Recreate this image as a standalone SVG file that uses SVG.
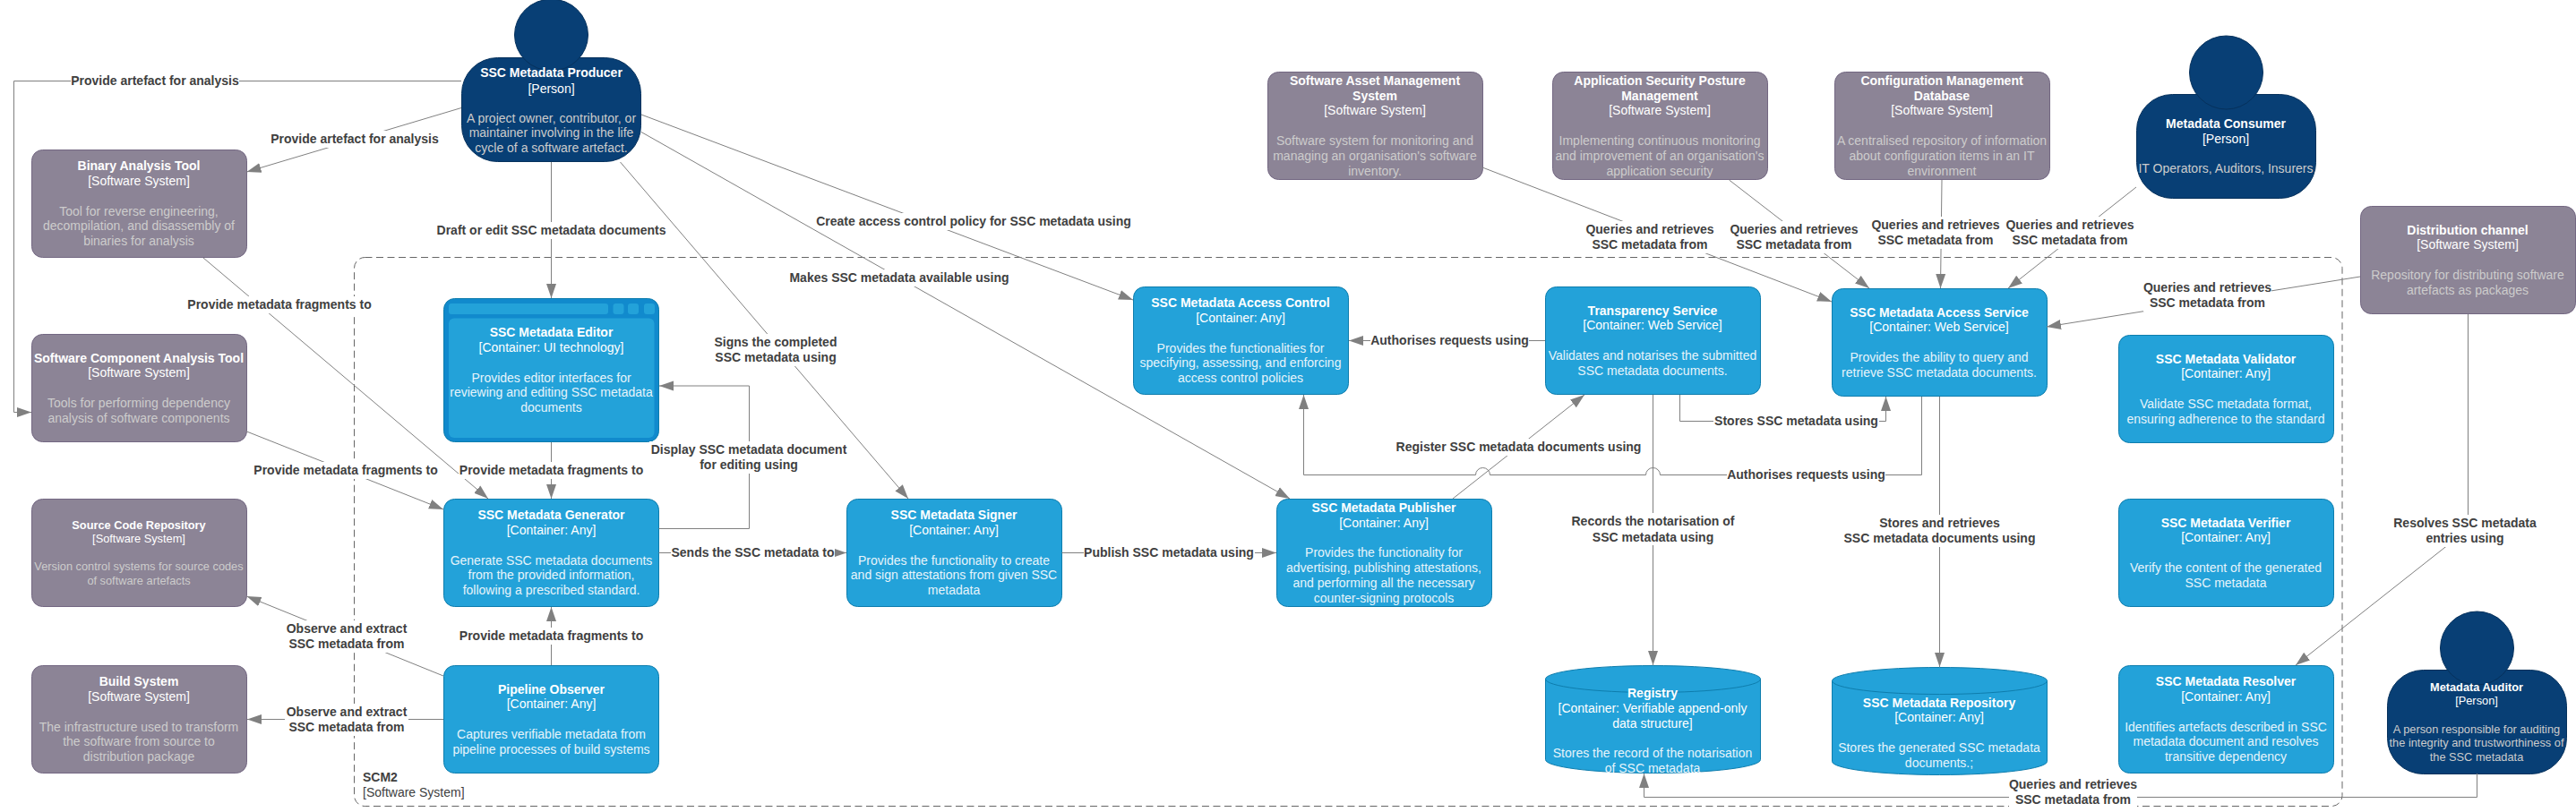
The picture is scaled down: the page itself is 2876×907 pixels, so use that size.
<svg xmlns="http://www.w3.org/2000/svg" width="2876" height="907" viewBox="0 0 2876 907">
<style>
text{font-family:"Liberation Sans",Arial,sans-serif;font-size:14px;text-anchor:middle}
.t{font-weight:bold;fill:#fff}.k{fill:#fff}.d{fill:#ccc}.b{fill:#e6f4fb}
.sm{font-size:12.8px}
.sys{fill:#8C8496;stroke:#736782}.box{fill:#23A2D9;stroke:#0E7DAD}.per{fill:#083F75;stroke:#06315C}
.c{fill:none;stroke:#808080;stroke-width:1}.a{marker-end:url(#arr)}
.lb{fill:#fff}.l{font-weight:bold;fill:#404040}
.bd{fill:none;stroke:#666;stroke-width:1;stroke-dasharray:8 4.5}
</style>
<defs><marker id="arr" markerUnits="userSpaceOnUse" markerWidth="17" markerHeight="12" refX="16" refY="6" orient="auto"><path d="M0,0.5L16,6L0,11.5z" fill="#808080"/></marker></defs>
<g id="boundary"><rect class="bd" x="395.5" y="287.5" width="2219.5" height="613" rx="12"/><text class="l" x="405" y="873" style="text-anchor:start">SCM2</text><text x="405" y="890" fill="#404040" style="text-anchor:start">[Software System]</text></g>

<g id="n-producer"><rect class="per" x="515.5" y="64.5" width="200" height="116" rx="40"/><ellipse class="per" cx="615.5" cy="39" rx="41" ry="40"/><text class="t" x="615.5" y="86">SSC Metadata Producer</text><text class="k" x="615.5" y="104">[Person]</text><text class="d" x="615.5" y="137">A project owner, contributor, or</text><text class="d" x="615.5" y="153">maintainer involving in the life</text><text class="d" x="615.5" y="170">cycle of a software artefact.</text></g>

<g id="n-binary"><rect class="sys" x="35.5" y="167.5" width="240" height="120" rx="12"/><text class="t" x="155" y="190">Binary Analysis Tool</text><text class="k" x="155" y="207">[Software System]</text><text class="d" x="155" y="241">Tool for reverse engineering,</text><text class="d" x="155" y="257">decompilation, and disassembly of</text><text class="d" x="155" y="274">binaries for analysis</text></g>
<g id="n-sca"><rect class="sys" x="35.5" y="373.5" width="240" height="120" rx="12"/><text class="t" x="155" y="405">Software Component Analysis Tool</text><text class="k" x="155" y="421">[Software System]</text><text class="d" x="155" y="455">Tools for performing dependency</text><text class="d" x="155" y="472">analysis of software components</text></g>
<g id="n-source"><rect class="sys" x="35.5" y="557.5" width="240" height="120" rx="12"/><text class="t sm" x="155" y="591">Source Code Repository</text><text class="k sm" x="155" y="606">[Software System]</text><text class="d sm" x="155" y="637">Version control systems for source codes</text><text class="d sm" x="155" y="653">of software artefacts</text></g>
<g id="n-build"><rect class="sys" x="35.5" y="743.5" width="240" height="120" rx="12"/><text class="t" x="155" y="766">Build System</text><text class="k" x="155" y="783">[Software System]</text><text class="d" x="155" y="817">The infrastructure used to transform</text><text class="d" x="155" y="833">the software from source to</text><text class="d" x="155" y="850">distribution package</text></g>

<g id="n-editor"><rect x="495.5" y="333.5" width="240" height="160" rx="12" fill="#118ACD" stroke="#0E7DAD"/><rect x="501" y="339" width="178" height="12" rx="3" fill="#23A2D9"/><rect x="684.5" y="339" width="12" height="12" rx="3" fill="#23A2D9"/><rect x="701" y="339" width="12" height="12" rx="3" fill="#23A2D9"/><rect x="719" y="339" width="12" height="12" rx="3" fill="#23A2D9"/><rect x="501" y="355.5" width="229.5" height="133.5" rx="6" fill="#23A2D9"/><text class="t" x="615.5" y="376">SSC Metadata Editor</text><text class="k" x="615.5" y="393">[Container: UI technology]</text><text class="b" x="615.5" y="427">Provides editor interfaces for</text><text class="b" x="615.5" y="443">reviewing and editing SSC metadata</text><text class="b" x="615.5" y="460">documents</text></g>
<g id="n-generator"><rect class="box" x="495.5" y="557.5" width="240" height="120" rx="12"/><text class="t" x="615.5" y="580">SSC Metadata Generator</text><text class="k" x="615.5" y="597">[Container: Any]</text><text class="b" x="615.5" y="631">Generate SSC metadata documents</text><text class="b" x="615.5" y="647">from the provided information,</text><text class="b" x="615.5" y="664">following a prescribed standard.</text></g>
<g id="n-observer"><rect class="box" x="495.5" y="743.5" width="240" height="120" rx="12"/><text class="t" x="615.5" y="775">Pipeline Observer</text><text class="k" x="615.5" y="791">[Container: Any]</text><text class="b" x="615.5" y="825">Captures verifiable metadata from</text><text class="b" x="615.5" y="842">pipeline processes of build systems</text></g>
<g id="n-signer"><rect class="box" x="945.5" y="557.5" width="240" height="120" rx="12"/><text class="t" x="1065" y="580">SSC Metadata Signer</text><text class="k" x="1065" y="597">[Container: Any]</text><text class="b" x="1065" y="631">Provides the functionality to create</text><text class="b" x="1065" y="647">and sign attestations from given SSC</text><text class="b" x="1065" y="664">metadata</text></g>
<g id="n-publisher"><rect class="box" x="1425.5" y="557.5" width="240" height="120" rx="12"/><text class="t" x="1545" y="572">SSC Metadata Publisher</text><text class="k" x="1545" y="589">[Container: Any]</text><text class="b" x="1545" y="622">Provides the functionality for</text><text class="b" x="1545" y="639">advertising, publishing attestations,</text><text class="b" x="1545" y="656">and performing all the necessary</text><text class="b" x="1545" y="673">counter-signing protocols</text></g>
<g id="n-accesscontrol"><rect class="box" x="1265.5" y="320.5" width="240" height="120" rx="12"/><text class="t" x="1385" y="343">SSC Metadata Access Control</text><text class="k" x="1385" y="360">[Container: Any]</text><text class="b" x="1385" y="394">Provides the functionalities for</text><text class="b" x="1385" y="410">specifying, assessing, and enforcing</text><text class="b" x="1385" y="427">access control policies</text></g>
<g id="n-transparency"><rect class="box" x="1725.5" y="320.5" width="240" height="120" rx="12"/><text class="t" x="1845" y="352">Transparency Service</text><text class="k" x="1845" y="368">[Container: Web Service]</text><text class="b" x="1845" y="402">Validates and notarises the submitted</text><text class="b" x="1845" y="419">SSC metadata documents.</text></g>
<g id="n-accessservice"><rect class="box" x="2045.5" y="322.5" width="240" height="120" rx="12"/><text class="t" x="2165" y="354">SSC Metadata Access Service</text><text class="k" x="2165" y="370">[Container: Web Service]</text><text class="b" x="2165" y="404">Provides the ability to query and</text><text class="b" x="2165" y="421">retrieve SSC metadata documents.</text></g>

<g id="n-sam"><rect class="sys" x="1415.5" y="80.5" width="240" height="120" rx="12"/><text class="t" x="1535" y="95">Software Asset Management</text><text class="t" x="1535" y="112">System</text><text class="k" x="1535" y="128">[Software System]</text><text class="d" x="1535" y="162">Software system for monitoring and</text><text class="d" x="1535" y="179">managing an organisation's software</text><text class="d" x="1535" y="196">inventory.</text></g>
<g id="n-aspm"><rect class="sys" x="1733.5" y="80.5" width="240" height="120" rx="12"/><text class="t" x="1853" y="95">Application Security Posture</text><text class="t" x="1853" y="112">Management</text><text class="k" x="1853" y="128">[Software System]</text><text class="d" x="1853" y="162">Implementing continuous monitoring</text><text class="d" x="1853" y="179">and improvement of an organisation's</text><text class="d" x="1853" y="196">application security</text></g>
<g id="n-cmdb"><rect class="sys" x="2048.5" y="80.5" width="240" height="120" rx="12"/><text class="t" x="2168" y="95">Configuration Management</text><text class="t" x="2168" y="112">Database</text><text class="k" x="2168" y="128">[Software System]</text><text class="d" x="2168" y="162">A centralised repository of information</text><text class="d" x="2168" y="179">about configuration items in an IT</text><text class="d" x="2168" y="196">environment</text></g>
<g id="n-consumer"><rect class="per" x="2385.5" y="105.5" width="200" height="116" rx="40"/><ellipse class="per" cx="2485.5" cy="81" rx="41" ry="41"/><text class="t" x="2485" y="143">Metadata Consumer</text><text class="k" x="2485" y="160">[Person]</text><text class="d" x="2485" y="193">IT Operators, Auditors, Insurers</text></g>
<g id="n-distribution"><rect class="sys" x="2635.5" y="230.5" width="240" height="120" rx="12"/><text class="t" x="2755" y="262">Distribution channel</text><text class="k" x="2755" y="278">[Software System]</text><text class="d" x="2755" y="312">Repository for distributing software</text><text class="d" x="2755" y="329">artefacts as packages</text></g>
<g id="n-validator"><rect class="box" x="2365.5" y="374.5" width="240" height="120" rx="12"/><text class="t" x="2485" y="406">SSC Metadata Validator</text><text class="k" x="2485" y="422">[Container: Any]</text><text class="b" x="2485" y="456">Validate SSC metadata format,</text><text class="b" x="2485" y="473">ensuring adherence to the standard</text></g>
<g id="n-verifier"><rect class="box" x="2365.5" y="557.5" width="240" height="120" rx="12"/><text class="t" x="2485" y="589">SSC Metadata Verifier</text><text class="k" x="2485" y="605">[Container: Any]</text><text class="b" x="2485" y="639">Verify the content of the generated</text><text class="b" x="2485" y="656">SSC metadata</text></g>
<g id="n-resolver"><rect class="box" x="2365.5" y="743.5" width="240" height="120" rx="12"/><text class="t" x="2485" y="766">SSC Metadata Resolver</text><text class="k" x="2485" y="783">[Container: Any]</text><text class="b" x="2485" y="817">Identifies artefacts described in SSC</text><text class="b" x="2485" y="833">metadata document and resolves</text><text class="b" x="2485" y="850">transitive dependency</text></g>
<g id="n-auditor"><rect class="per" x="2665.5" y="748.5" width="200" height="116" rx="40"/><ellipse class="per" cx="2765.5" cy="724" rx="41" ry="41"/><text class="t sm" x="2765" y="772">Metadata Auditor</text><text class="k sm" x="2765" y="787">[Person]</text><text class="d sm" x="2765" y="819">A person responsible for auditing</text><text class="d sm" x="2765" y="834">the integrity and trustworthiness of</text><text class="d sm" x="2765" y="850">the SSC metadata</text></g>
<g id="n-registry"><path class="box" d="M1725.5,758.5a120,15 0 0 1 240,0v90a120,15 0 0 1 -240,0z"/><path class="box" style="fill:none" d="M1725.5,758.5a120,15 0 0 0 240,0"/><text class="t" x="1845" y="779">Registry</text><text class="k" x="1845" y="796">[Container: Verifiable append-only</text><text class="k" x="1845" y="813">data structure]</text><text class="b" x="1845" y="846">Stores the record of the notarisation</text><text class="b" x="1845" y="863">of SSC metadata</text></g>
<g id="n-repository"><path class="box" d="M2045.5,760.5a120,15 0 0 1 240,0v90a120,15 0 0 1 -240,0z"/><path class="box" style="fill:none" d="M2045.5,760.5a120,15 0 0 0 240,0"/><text class="t" x="2165" y="790">SSC Metadata Repository</text><text class="k" x="2165" y="806">[Container: Any]</text><text class="b" x="2165" y="840">Stores the generated SSC metadata</text><text class="b" x="2165" y="857">documents.;</text></g>

<g id="connectors">
<path class="c a" d="M515,90.5H15.5V460.5H35"/>
<path class="c a" d="M515,120.5L275.5,192"/>
<path class="c a" d="M615.5,181V333"/>
<path class="c a" d="M692.5,181L1014,557"/>
<path class="c a" d="M716,147.5L1440,557"/>
<path class="c a" d="M716,128L1265,335"/>
<path class="c a" d="M227,288L545,557"/>
<path class="c a" d="M275.5,482L495,569"/>
<path class="c a" d="M615.5,494V557"/>
<path class="c a" d="M735.5,590.5H836.5V431H736"/>
<path class="c a" d="M735.5,617.5H945"/>
<path class="c a" d="M1185.5,617.5H1425"/>
<path class="c a" d="M615.5,743V678"/>
<path class="c a" d="M495,755L275.5,666"/>
<path class="c a" d="M495,803.5H276"/>
<path class="c a" d="M1622,557L1769,441"/>
<path class="c a" d="M1725,380.5H1506"/>
<path class="c a" d="M1875.5,441V470.5H2105.5V443"/>
<path class="c a" d="M2145.5,443V530.5H1853.5a8,8 0 0 0 -16,0H1663.5a8,8 0 0 0 -16,0H1455.5V441"/>
<path class="c a" d="M1845.5,441V743"/>
<path class="c a" d="M2165.5,443V745"/>
<path class="c a" d="M1655,187L2045,337"/>
<path class="c a" d="M1930.5,201L2087,322"/>
<path class="c a" d="M2168,201L2166.5,322"/>
<path class="c a" d="M2385,209L2242,322"/>
<path class="c a" d="M2635,309L2285,365"/>
<path class="c a" d="M2755.5,351V591L2563,743"/>
<path class="c a" d="M2765.5,864V890.5H1835.5V864"/>

<rect class="lb" x="79" y="81" width="188" height="19"/><text class="l" x="173" y="95">Provide artefact for analysis</text>
<rect class="lb" x="301" y="146" width="190" height="19"/><text class="l" x="396" y="160">Provide artefact for analysis</text>
<rect class="lb" x="487" y="248" width="258" height="19"/><text class="l" x="615.5" y="262">Draft or edit SSC metadata documents</text>
<rect class="lb" x="796" y="373" width="140" height="36"/><text class="l" x="866" y="387">Signs the completed</text><text class="l" x="866" y="404">SSC metadata using</text>
<rect class="lb" x="882" y="301" width="246" height="19"/><text class="l" x="1004" y="315">Makes SSC metadata available using</text>
<rect class="lb" x="911" y="238" width="353" height="19"/><text class="l" x="1087" y="252">Create access control policy for SSC metadata using</text>
<rect class="lb" x="208" y="331" width="208" height="19"/><text class="l" x="312" y="345">Provide metadata fragments to</text>
<rect class="lb" x="282" y="516" width="208" height="19"/><text class="l" x="386" y="530">Provide metadata fragments to</text>
<rect class="lb" x="512" y="516" width="208" height="19"/><text class="l" x="615.5" y="530">Provide metadata fragments to</text>
<rect class="lb" x="725" y="493" width="222" height="36"/><text class="l" x="836" y="507">Display SSC metadata document</text><text class="l" x="836" y="524">for editing using</text>
<rect class="lb" x="749" y="608" width="183" height="19"/><text class="l" x="840.5" y="622">Sends the SSC metadata to</text>
<rect class="lb" x="1210" y="608" width="191" height="19"/><text class="l" x="1305" y="622">Publish SSC metadata using</text>
<rect class="lb" x="512" y="701" width="208" height="19"/><text class="l" x="615.5" y="715">Provide metadata fragments to</text>
<rect class="lb" x="318" y="693" width="138" height="36"/><text class="l" x="387" y="707">Observe and extract</text><text class="l" x="387" y="724">SSC metadata from</text>
<rect class="lb" x="318" y="786" width="138" height="36"/><text class="l" x="387" y="800">Observe and extract</text><text class="l" x="387" y="817">SSC metadata from</text>
<rect class="lb" x="1558" y="490" width="276" height="19"/><text class="l" x="1695.5" y="504">Register SSC metadata documents using</text>
<rect class="lb" x="1530" y="371" width="177" height="19"/><text class="l" x="1618.5" y="385">Authorises requests using</text>
<rect class="lb" x="1913" y="461" width="185" height="19"/><text class="l" x="2005.5" y="475">Stores SSC metadata using</text>
<rect class="lb" x="1928" y="521" width="177" height="19"/><text class="l" x="2016.5" y="535">Authorises requests using</text>
<rect class="lb" x="1754" y="573" width="182" height="36"/><text class="l" x="1845.5" y="587">Records the notarisation of</text><text class="l" x="1845.5" y="605">SSC metadata using</text>
<rect class="lb" x="2057" y="575" width="216" height="36"/><text class="l" x="2165.5" y="589">Stores and retrieves</text><text class="l" x="2165.5" y="606">SSC metadata documents using</text>
<rect class="lb" x="1771" y="247" width="143" height="36"/><text class="l" x="1842" y="261">Queries and retrieves</text><text class="l" x="1842" y="278">SSC metadata from</text>
<rect class="lb" x="1932" y="247" width="143" height="36"/><text class="l" x="2003" y="261">Queries and retrieves</text><text class="l" x="2003" y="278">SSC metadata from</text>
<rect class="lb" x="2090" y="242" width="143" height="36"/><text class="l" x="2161" y="256">Queries and retrieves</text><text class="l" x="2161" y="273">SSC metadata from</text>
<rect class="lb" x="2240" y="242" width="143" height="36"/><text class="l" x="2311" y="256">Queries and retrieves</text><text class="l" x="2311" y="273">SSC metadata from</text>
<rect class="lb" x="2393" y="312" width="143" height="36"/><text class="l" x="2464.5" y="326">Queries and retrieves</text><text class="l" x="2464.5" y="343">SSC metadata from</text>
<rect class="lb" x="2672" y="575" width="161" height="36"/><text class="l" x="2752" y="589">Resolves SSC metadata</text><text class="l" x="2752" y="606">entries using</text>
<rect class="lb" x="2243" y="867" width="143" height="36"/><text class="l" x="2314.5" y="881">Queries and retrieves</text><text class="l" x="2314.5" y="898">SSC metadata from</text>
</g>
</svg>
